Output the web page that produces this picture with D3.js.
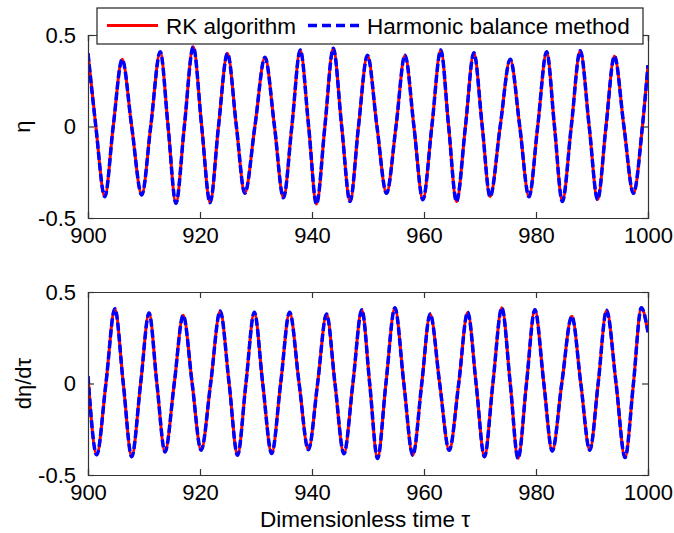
<!DOCTYPE html>
<html>
<head>
<meta charset="utf-8">
<script src="https://cdn.jsdelivr.net/npm/d3@7"></script>
<style>
  html, body { margin: 0; padding: 0; background: #fff; }
  svg { display: block; font-family: "Liberation Sans", Arial, sans-serif; }
</style>
</head>
<body>
<svg id="chart" width="674" height="533"></svg>
<script>
// Displacement η over τ = 900..1000 (extrema and zero crossings)
const tauEta = [900.0, 901.4, 903.0, 904.5, 906.1, 907.8, 909.6, 911.2, 912.9, 914.3,
  915.7, 917.2, 918.8, 920.3, 921.8, 923.3, 924.9, 926.5, 928.0, 929.8,
  931.6, 933.3, 934.9, 936.4, 937.9, 939.4, 940.8, 942.3, 943.8, 945.3,
  946.8, 948.3, 949.9, 951.6, 953.3, 955.0, 956.6, 958.2, 959.8, 961.4,
  963.0, 964.4, 965.8, 967.4, 968.9, 970.4, 971.8, 973.6, 975.4, 977.1,
  978.75, 980.3, 981.9, 983.3, 984.7, 986.3, 987.9, 989.5, 991.0, 992.5,
  994.0, 995.7, 997.4, 999.0, 1000.0];
const etaRK = [0.40, 0.00, -0.384, 0.00, 0.367, 0.00, -0.374, 0.00, 0.409, 0.00,
  -0.42, 0.00, 0.436, 0.00, -0.416, 0.00, 0.40, 0.00, -0.365, 0.00,
  0.378, 0.00, -0.39, 0.00, 0.418, 0.00, -0.424, 0.00, 0.427, 0.00,
  -0.41, 0.00, 0.39, 0.00, -0.365, 0.00, 0.39, 0.00, -0.40, 0.00,
  0.418, 0.00, -0.41, 0.00, 0.403, 0.00, -0.384, 0.00, 0.367, 0.00,
  -0.384, 0.00, 0.409, 0.00, -0.41, 0.00, 0.414, 0.00, -0.40, 0.00,
  0.385, 0.00, -0.365, 0.00, 0.335];
const etaHB = [0.40, 0.00, -0.384, 0.00, 0.367, 0.00, -0.374, 0.00, 0.409, 0.00,
  -0.42, 0.00, 0.436, 0.00, -0.416, 0.00, 0.40, 0.00, -0.365, 0.00,
  0.378, 0.00, -0.39, 0.00, 0.418, 0.00, -0.424, 0.00, 0.427, 0.00,
  -0.41, 0.00, 0.39, 0.00, -0.365, 0.00, 0.39, 0.00, -0.40, 0.00,
  0.418, 0.00, -0.41, 0.00, 0.403, 0.00, -0.384, 0.00, 0.367, 0.00,
  -0.384, 0.00, 0.409, 0.00, -0.41, 0.00, 0.414, 0.00, -0.40, 0.00,
  0.385, 0.00, -0.365, 0.00, 0.335];

// Velocity dη/dτ over the same window
const tauVel = [900.0, 901.55, 903.2, 904.8, 906.3, 907.8, 909.4, 910.9, 912.3, 913.75,
  915.4, 917.0, 918.6, 920.2, 921.9, 923.6, 925.2, 926.7, 928.2, 929.7,
  931.2, 932.8, 934.4, 936.0, 937.7, 939.35, 941.0, 942.6, 944.1, 945.7,
  947.3, 948.9, 950.3, 951.7, 953.2, 954.8, 956.4, 958.0, 959.6, 961.1,
  962.8, 964.5, 966.2, 967.8, 969.3, 970.8, 972.3, 973.9, 975.4, 976.8,
  978.3, 979.8, 981.4, 982.9, 984.6, 986.4, 988.0, 989.6, 991.1, 992.6,
  994.3, 995.9, 997.4, 998.8, 1000.0];
const velRK = [0.04, -0.39, 0.00, 0.409, 0.00, -0.40, 0.00, 0.385, 0.00, -0.374,
  0.00, 0.373, 0.00, -0.365, 0.00, 0.396, 0.00, -0.392, 0.00, 0.39,
  0.00, -0.383, 0.00, 0.39, 0.00, -0.362, 0.00, 0.38, 0.00, -0.384,
  0.00, 0.403, 0.00, -0.41, 0.00, 0.414, 0.00, -0.392, 0.00, 0.38,
  0.00, -0.365, 0.00, 0.39, 0.00, -0.40, 0.00, 0.414, 0.00, -0.41,
  0.00, 0.403, 0.00, -0.369, 0.00, 0.367, 0.00, -0.365, 0.00, 0.40,
  0.00, -0.405, 0.00, 0.414, 0.28];
const velHB = [0.04, -0.39, 0.00, 0.409, 0.00, -0.40, 0.00, 0.385, 0.00, -0.374,
  0.00, 0.373, 0.00, -0.365, 0.00, 0.396, 0.00, -0.392, 0.00, 0.39,
  0.00, -0.383, 0.00, 0.39, 0.00, -0.362, 0.00, 0.38, 0.00, -0.384,
  0.00, 0.403, 0.00, -0.41, 0.00, 0.414, 0.00, -0.392, 0.00, 0.38,
  0.00, -0.365, 0.00, 0.39, 0.00, -0.40, 0.00, 0.414, 0.00, -0.41,
  0.00, 0.403, 0.00, -0.369, 0.00, 0.367, 0.00, -0.365, 0.00, 0.40,
  0.00, -0.405, 0.00, 0.414, 0.28];

const xTicks = [900, 920, 940, 960, 980, 1000];
const yTicks = [-0.5, 0, 0.5];
const yTickLabels = ["-0.5", "0", "0.5"];
const seriesNames = ["RK algorithm", "Harmonic balance method"];
const yLabels = ["η", "dη/dτ"];
const xLabel = "Dimensionless time τ";

const svg = d3.select("#chart");
const left = 88, right = 648;
const panels = [
  { top: 35, bottom: 218, t: tauEta, rk: etaRK, hb: etaHB, label: yLabels[0], lx: 30 },
  { top: 292, bottom: 475, t: tauVel, rk: velRK, hb: velHB, label: yLabels[1], lx: 31 }
];

const x = d3.scaleLinear().domain([900, 1000]).range([left, right]);
const axisColor = "#333";
const tickLen = 6;

panels.forEach((p, i) => {
  const y = d3.scaleLinear().domain([-0.5, 0.5]).range([p.bottom, p.top]);
  const g = svg.append("g");
  const clipId = "clip" + i;
  svg.append("clipPath").attr("id", clipId)
    .append("rect").attr("x", left).attr("y", p.top - 3)
    .attr("width", right - left).attr("height", p.bottom - p.top + 6);

  const line = d3.line().curve(d3.curveMonotoneX)
    .x(d => x(d[0])).y(d => y(d[1]));

  const rkPts = p.t.map((t, k) => [t, p.rk[k]]);
  const hbPts = p.t.map((t, k) => [t, p.hb[k]]);

  g.append("path").attr("d", line(rkPts))
    .attr("clip-path", `url(#${clipId})`)
    .attr("fill", "none").attr("stroke", "#ff0000").attr("stroke-width", 3);
  g.append("path").attr("d", line(hbPts))
    .attr("clip-path", `url(#${clipId})`)
    .attr("fill", "none").attr("stroke", "#0000ff").attr("stroke-width", 3.5)
    .attr("stroke-dasharray", "8,3");

  // axes: inward ticks on all four sides, box style
  const ax = g.append("g").attr("transform", `translate(0,${p.bottom})`)
    .call(d3.axisBottom(x).tickValues(xTicks).tickSize(-tickLen).tickPadding(9).tickFormat(d3.format("d")));
  const axTop = g.append("g").attr("transform", `translate(0,${p.top})`)
    .call(d3.axisTop(x).tickValues(xTicks).tickSize(-tickLen).tickFormat(""));
  const ay = g.append("g").attr("transform", `translate(${left},0)`)
    .call(d3.axisLeft(y).tickValues(yTicks).tickSize(-tickLen).tickPadding(12)
      .tickFormat((d, k) => yTickLabels[k]));
  const ayR = g.append("g").attr("transform", `translate(${right},0)`)
    .call(d3.axisRight(y).tickValues(yTicks).tickSize(-tickLen).tickFormat(""));

  [ax, axTop, ay, ayR].forEach(a => {
    a.select(".domain").attr("stroke", axisColor).attr("stroke-width", 1.2);
    a.selectAll(".tick line").attr("stroke", axisColor).attr("stroke-width", 1.2);
    a.selectAll("text").attr("fill", "#000").style("font-size", "22px")
      .style("font-family", "'Liberation Sans', Arial, sans-serif");
  });
  ax.selectAll("text").attr("dy", "0.71em");

  svg.append("text")
    .attr("transform", `translate(${p.lx},${(p.top + p.bottom) / 2}) rotate(-90)`)
    .attr("text-anchor", "middle")
    .style("font-size", "22px").attr("fill", "#000")
    .text(p.label);
});

svg.append("text").attr("x", (left + right) / 2 - 3).attr("y", 527)
  .attr("text-anchor", "middle").style("font-size", "22.5px").attr("fill", "#000")
  .text(xLabel);

// legend
const lg = svg.append("g");
lg.append("rect").attr("x", 97).attr("y", 8).attr("width", 546).attr("height", 36)
  .attr("fill", "#fff").attr("stroke", "#222").attr("stroke-width", 1.2);
lg.append("line").attr("x1", 107).attr("x2", 158).attr("y1", 25.5).attr("y2", 25.5)
  .attr("stroke", "#ff0000").attr("stroke-width", 3);
lg.append("text").attr("x", 166).attr("y", 33.5).style("font-size", "22.5px").attr("fill", "#000")
  .text(seriesNames[0]);
lg.append("line").attr("x1", 308).attr("x2", 359).attr("y1", 25.5).attr("y2", 25.5)
  .attr("stroke", "#0000ff").attr("stroke-width", 3.5).attr("stroke-dasharray", "9,5");
lg.append("text").attr("x", 367).attr("y", 33.5).style("font-size", "22.5px").attr("fill", "#000")
  .text(seriesNames[1]);
</script>
</body>
</html>
